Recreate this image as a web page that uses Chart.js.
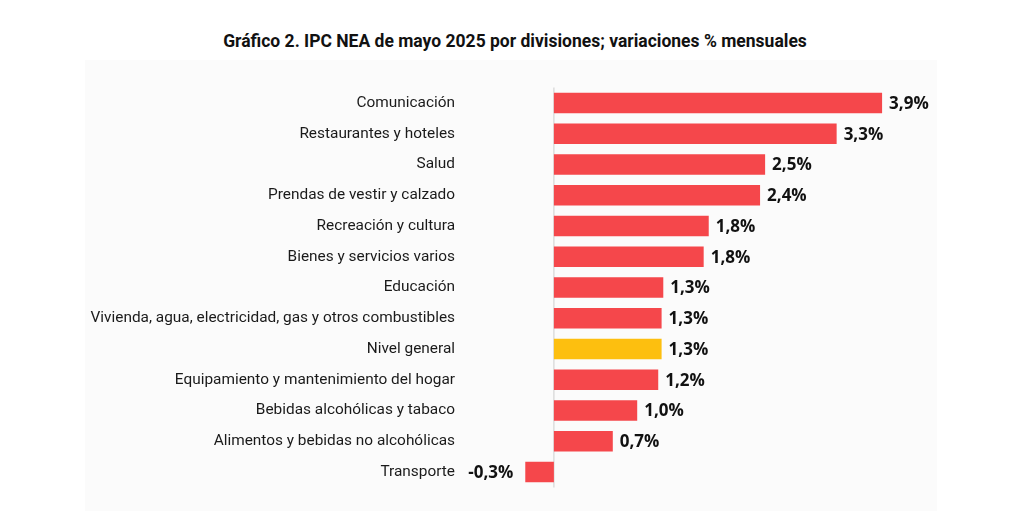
<!DOCTYPE html>
<html lang="es">
<head>
  <meta charset="UTF-8">
  <title>IPC NEA mayo 2025</title>
  <script src="https://cdn.jsdelivr.net/npm/chart.js"></script>
  <style>
    body { margin: 0; background: #fff; }
    .wrap { position: relative; width: 1030px; height: 511px; }
    .panel { position: absolute; left: 85px; top: 60px; width: 852px; height: 451px; background: #fbfbfb; }
    .title {
      position: absolute; left: 0; top: 31px; width: 1030px; text-align: center;
      font-family: Roboto, sans-serif; font-weight: bold; font-size: 17.5px; color: #111;
    }
    canvas { position: absolute; left: 0; top: 0; }
  </style>
</head>
<body>
  <div class="wrap">
    <div class="panel"></div>
    <div class="title">Gráfico 2. IPC NEA de mayo 2025 por divisiones; variaciones % mensuales</div>
    <canvas id="chart" width="1030" height="511"></canvas>
  </div>
  <script>
    const categories = [
      'Comunicación',
      'Restaurantes y hoteles',
      'Salud',
      'Prendas de vestir y calzado',
      'Recreación y cultura',
      'Bienes y servicios varios',
      'Educación',
      'Vivienda, agua, electricidad, gas y otros combustibles',
      'Nivel general',
      'Equipamiento y mantenimiento del hogar',
      'Bebidas alcohólicas y tabaco',
      'Alimentos y bebidas no alcohólicas',
      'Transporte'
    ];
    // variación % mensual (longitud de barra)
    const values = [3.9, 3.36, 2.51, 2.45, 1.84, 1.78, 1.30, 1.28, 1.28, 1.24, 0.99, 0.70, -0.34];
    // etiquetas tal como aparecen
    const valueLabels = ['3,9%', '3,3%', '2,5%', '2,4%', '1,8%', '1,8%', '1,3%', '1,3%', '1,3%', '1,2%', '1,0%', '0,7%', '-0,3%'];

    const RED = '#f5474b';
    const YELLOW = '#fdbf0f';
    const barColors = categories.map(c => c === 'Nivel general' ? YELLOW : RED);

    // línea del cero + etiquetas de valor
    const extras = {
      id: 'extras',
      beforeDatasetsDraw(chart) {
        const { ctx, chartArea, scales } = chart;
        const x0 = scales.x.getPixelForValue(0);
        ctx.save();
        ctx.strokeStyle = '#dcdcdc';
        ctx.lineWidth = 1.5;
        ctx.beginPath();
        ctx.moveTo(x0, chartArea.top);
        ctx.lineTo(x0, chartArea.bottom);
        ctx.stroke();
        ctx.restore();
      },
      afterDatasetsDraw(chart) {
        const { ctx } = chart;
        const meta = chart.getDatasetMeta(0);
        ctx.save();
        ctx.font = 'bold 17px "Open Sans", sans-serif';
        ctx.fillStyle = '#111';
        ctx.textBaseline = 'middle';
        meta.data.forEach((bar, i) => {
          if (values[i] >= 0) {
            ctx.textAlign = 'left';
            ctx.fillText(valueLabels[i], bar.x + 7, bar.y + 1);
          } else {
            ctx.textAlign = 'right';
            ctx.fillText(valueLabels[i], bar.x - 12, bar.y + 1);
          }
        });
        ctx.restore();
      }
    };

    new Chart(document.getElementById('chart'), {
      type: 'bar',
      data: {
        labels: categories,
        datasets: [{
          data: values,
          backgroundColor: barColors,
          borderWidth: 0,
          categoryPercentage: 1,
          barPercentage: 0.66
        }]
      },
      options: {
        indexAxis: 'y',
        responsive: false,
        animation: false,
        layout: { padding: { left: 0, right: 89, top: 87.6, bottom: 23.6 } },
        plugins: {
          legend: { display: false },
          tooltip: { enabled: false },
          title: { display: false }
        },
        scales: {
          x: {
            display: false,
            min: -1.08,
            max: 4.6
          },
          y: {
            grid: { display: false, drawTicks: false },
            border: { display: false },
            ticks: {
              color: '#1a1a1a',
              padding: 8,
              font: { family: 'Roboto, sans-serif', size: 15.4 }
            },
            afterFit(axis) { axis.width = 463; }
          }
        }
      },
      plugins: [extras]
    });
  </script>
</body>
</html>
